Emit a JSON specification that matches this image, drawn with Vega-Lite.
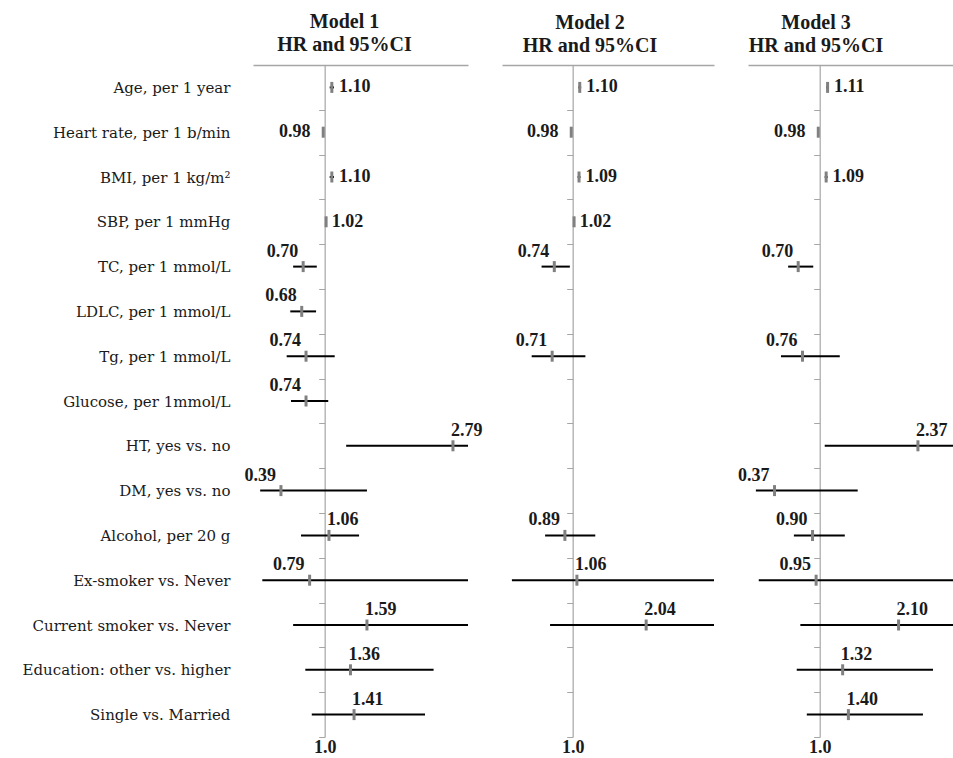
{
  "$schema": "https://vega.github.io/schema/vega-lite/v6.json",
  "padding": {"left": 22, "top": 12, "right": 0, "bottom": 0},
  "config": {
    "view": {"stroke": null},
    "title": {"font": "Liberation Serif", "fontSize": 20, "fontWeight": "bold", "lineHeight": 23, "offset": 3, "anchor": "middle", "color": "#1a1a1a"},
    "axis": {"grid": false}
  },
  "data": {"values": [
    {"model": "Model 1", "var": "Age, per 1 year", "hr": 1.10, "lo": 1.07, "hi": 1.13},
    {"model": "Model 1", "var": "Heart rate, per 1 b/min", "hr": 0.98, "lo": 0.97, "hi": 0.99},
    {"model": "Model 1", "var": "BMI, per 1 kg/m²", "hr": 1.10, "lo": 1.07, "hi": 1.13},
    {"model": "Model 1", "var": "SBP, per 1 mmHg", "hr": 1.02, "lo": 1.01, "hi": 1.03},
    {"model": "Model 1", "var": "TC, per 1 mmol/L", "hr": 0.70, "lo": 0.56, "hi": 0.89},
    {"model": "Model 1", "var": "LDLC, per 1 mmol/L", "hr": 0.68, "lo": 0.52, "hi": 0.88},
    {"model": "Model 1", "var": "Tg, per 1 mmol/L", "hr": 0.74, "lo": 0.47, "hi": 1.14},
    {"model": "Model 1", "var": "Glucose, per 1mmol/L", "hr": 0.74, "lo": 0.53, "hi": 1.05},
    {"model": "Model 1", "var": "HT, yes vs. no", "hr": 2.79, "lo": 1.30, "hi": 3.40},
    {"model": "Model 1", "var": "DM, yes vs. no", "hr": 0.39, "lo": 0.10, "hi": 1.59},
    {"model": "Model 1", "var": "Alcohol, per 20 g", "hr": 1.06, "lo": 0.67, "hi": 1.48},
    {"model": "Model 1", "var": "Ex-smoker vs. Never", "hr": 0.79, "lo": 0.13, "hi": 3.40},
    {"model": "Model 1", "var": "Current smoker vs. Never", "hr": 1.59, "lo": 0.56, "hi": 3.40},
    {"model": "Model 1", "var": "Education: other vs. higher", "hr": 1.36, "lo": 0.73, "hi": 2.52},
    {"model": "Model 1", "var": "Single vs. Married", "hr": 1.41, "lo": 0.82, "hi": 2.40},
    {"model": "Model 2", "var": "Age, per 1 year", "hr": 1.10, "lo": 1.08, "hi": 1.12},
    {"model": "Model 2", "var": "Heart rate, per 1 b/min", "hr": 0.98, "lo": 0.97, "hi": 0.99},
    {"model": "Model 2", "var": "BMI, per 1 kg/m²", "hr": 1.09, "lo": 1.07, "hi": 1.11},
    {"model": "Model 2", "var": "SBP, per 1 mmHg", "hr": 1.02, "lo": 1.01, "hi": 1.03},
    {"model": "Model 2", "var": "TC, per 1 mmol/L", "hr": 0.74, "lo": 0.56, "hi": 0.96},
    {"model": "Model 2", "var": "Tg, per 1 mmol/L", "hr": 0.71, "lo": 0.42, "hi": 1.18},
    {"model": "Model 2", "var": "Alcohol, per 20 g", "hr": 0.89, "lo": 0.61, "hi": 1.32},
    {"model": "Model 2", "var": "Ex-smoker vs. Never", "hr": 1.06, "lo": 0.14, "hi": 3.40},
    {"model": "Model 2", "var": "Current smoker vs. Never", "hr": 2.04, "lo": 0.68, "hi": 3.40},
    {"model": "Model 3", "var": "Age, per 1 year", "hr": 1.11, "lo": 1.09, "hi": 1.13},
    {"model": "Model 3", "var": "Heart rate, per 1 b/min", "hr": 0.98, "lo": 0.97, "hi": 0.99},
    {"model": "Model 3", "var": "BMI, per 1 kg/m²", "hr": 1.09, "lo": 1.07, "hi": 1.11},
    {"model": "Model 3", "var": "TC, per 1 mmol/L", "hr": 0.70, "lo": 0.56, "hi": 0.91},
    {"model": "Model 3", "var": "Tg, per 1 mmol/L", "hr": 0.76, "lo": 0.46, "hi": 1.28},
    {"model": "Model 3", "var": "HT, yes vs. no", "hr": 2.37, "lo": 1.07, "hi": 3.40},
    {"model": "Model 3", "var": "DM, yes vs. no", "hr": 0.37, "lo": 0.11, "hi": 1.53},
    {"model": "Model 3", "var": "Alcohol, per 20 g", "hr": 0.90, "lo": 0.64, "hi": 1.35},
    {"model": "Model 3", "var": "Ex-smoker vs. Never", "hr": 0.95, "lo": 0.15, "hi": 3.40},
    {"model": "Model 3", "var": "Current smoker vs. Never", "hr": 2.10, "lo": 0.73, "hi": 3.40},
    {"model": "Model 3", "var": "Education: other vs. higher", "hr": 1.32, "lo": 0.68, "hi": 2.58},
    {"model": "Model 3", "var": "Single vs. Married", "hr": 1.40, "lo": 0.82, "hi": 2.44}
  ]},
  "bounds": "flush",
  "spacing": 34,
  "hconcat": [
    {
      "width": 215, "height": 672,
      "title": {"text": ["Model 1", "HR and 95%CI"], "dx": -16},
      "transform": [{"filter": "datum.model === 'Model 1'"}],
      "encoding": {
        "y": {"field": "var", "type": "nominal", "sort": null,
          "scale": {"domain": ["Age, per 1 year", "Heart rate, per 1 b/min", "BMI, per 1 kg/m²", "SBP, per 1 mmHg", "TC, per 1 mmol/L", "LDLC, per 1 mmol/L", "Tg, per 1 mmol/L", "Glucose, per 1mmol/L", "HT, yes vs. no", "DM, yes vs. no", "Alcohol, per 20 g", "Ex-smoker vs. Never", "Current smoker vs. Never", "Education: other vs. higher", "Single vs. Married"], "paddingInner": 0, "paddingOuter": 0},
          "axis": {"orient": "left", "offset": -71.67, "domain": true, "domainColor": "#a6a6a6", "domainWidth": 1.2, "ticks": true, "tickBand": "extent", "tickSize": 6, "tickColor": "#a6a6a6", "labels": true, "labelPadding": 88.7, "labelFont": "DejaVu Serif", "labelFontSize": 15, "labelColor": "#1a1a1a", "labelLimit": 400, "title": null, "grid": false}}
      },
      "layer": [
        {"mark": {"type": "rule", "color": "#000000", "strokeWidth": 2, "clip": true},
         "encoding": {
           "x": {"field": "lo", "type": "quantitative", "scale": {"domain": [0, 3], "nice": false, "zero": false},
             "axis": {"orient": "top", "domain": true, "domainColor": "#a6a6a6", "domainWidth": 1.5, "ticks": false, "labels": false, "grid": false, "title": null}},
           "x2": {"field": "hi"}}},
        {"mark": {"type": "tick", "color": "#808080", "thickness": 3, "size": 11, "opacity": 1},
         "encoding": {
           "x": {"field": "hr", "type": "quantitative",
             "axis": {"orient": "bottom", "domain": false, "ticks": false, "grid": false, "values": [1], "labelExpr": "'1.0'", "labelFont": "Liberation Serif", "labelFontSize": 18, "labelFontWeight": "bold", "labelPadding": 1, "labelColor": "#1a1a1a", "title": null}}}},
        {"transform": [{"filter": "datum.hi - datum.lo < 0.1 && datum.hr >= 1"}],
         "mark": {"type": "text", "align": "left", "baseline": "middle", "dx": 5, "font": "Liberation Serif", "fontSize": 18, "fontWeight": "bold", "color": "#1a1a1a"},
         "encoding": {"x": {"field": "hi", "type": "quantitative", "axis": null}, "text": {"field": "hr", "type": "quantitative", "format": ".2f"}}},
        {"transform": [{"filter": "datum.hi - datum.lo < 0.1 && datum.hr < 1"}],
         "mark": {"type": "text", "align": "right", "baseline": "middle", "dx": -12, "font": "Liberation Serif", "fontSize": 18, "fontWeight": "bold", "color": "#1a1a1a"},
         "encoding": {"x": {"field": "lo", "type": "quantitative", "axis": null}, "text": {"field": "hr", "type": "quantitative", "format": ".2f"}}},
        {"transform": [{"filter": "datum.hi - datum.lo >= 0.1 && datum.hr < 1"}],
         "mark": {"type": "text", "align": "right", "baseline": "middle", "dx": -5, "dy": -15, "font": "Liberation Serif", "fontSize": 18, "fontWeight": "bold", "color": "#1a1a1a"},
         "encoding": {"x": {"field": "hr", "type": "quantitative", "axis": null}, "text": {"field": "hr", "type": "quantitative", "format": ".2f"}}},
        {"transform": [{"filter": "datum.hi - datum.lo >= 0.1 && datum.hr >= 1"}],
         "mark": {"type": "text", "align": "left", "baseline": "middle", "dx": -2, "dy": -15, "font": "Liberation Serif", "fontSize": 18, "fontWeight": "bold", "color": "#1a1a1a"},
         "encoding": {"x": {"field": "hr", "type": "quantitative", "axis": null}, "text": {"field": "hr", "type": "quantitative", "format": ".2f"}}}
      ]
    },
    {
      "width": 212, "height": 672,
      "title": {"text": ["Model 2", "HR and 95%CI"], "dx": -18, "dy": -6},
      "transform": [{"filter": "datum.model === 'Model 2'"}],
      "encoding": {
        "y": {"field": "var", "type": "nominal", "sort": null,
          "scale": {"domain": ["Age, per 1 year", "Heart rate, per 1 b/min", "BMI, per 1 kg/m²", "SBP, per 1 mmHg", "TC, per 1 mmol/L", "LDLC, per 1 mmol/L", "Tg, per 1 mmol/L", "Glucose, per 1mmol/L", "HT, yes vs. no", "DM, yes vs. no", "Alcohol, per 20 g", "Ex-smoker vs. Never", "Current smoker vs. Never", "Education: other vs. higher", "Single vs. Married"], "paddingInner": 0, "paddingOuter": 0},
          "axis": {"orient": "left", "offset": -70.67, "domain": true, "domainColor": "#a6a6a6", "domainWidth": 1.2, "ticks": true, "tickBand": "extent", "tickSize": 6, "tickColor": "#a6a6a6", "labels": false, "title": null, "grid": false}}
      },
      "layer": [
        {"mark": {"type": "rule", "color": "#000000", "strokeWidth": 2, "clip": true},
         "encoding": {
           "x": {"field": "lo", "type": "quantitative", "scale": {"domain": [0, 3], "nice": false, "zero": false},
             "axis": {"orient": "top", "domain": true, "domainColor": "#a6a6a6", "domainWidth": 1.5, "ticks": false, "labels": false, "grid": false, "title": null}},
           "x2": {"field": "hi"}}},
        {"mark": {"type": "tick", "color": "#808080", "thickness": 3, "size": 11, "opacity": 1},
         "encoding": {
           "x": {"field": "hr", "type": "quantitative",
             "axis": {"orient": "bottom", "domain": false, "ticks": false, "grid": false, "values": [1], "labelExpr": "'1.0'", "labelFont": "Liberation Serif", "labelFontSize": 18, "labelFontWeight": "bold", "labelPadding": 1, "labelColor": "#1a1a1a", "title": null}}}},
        {"transform": [{"filter": "datum.hi - datum.lo < 0.1 && datum.hr >= 1"}],
         "mark": {"type": "text", "align": "left", "baseline": "middle", "dx": 5, "font": "Liberation Serif", "fontSize": 18, "fontWeight": "bold", "color": "#1a1a1a"},
         "encoding": {"x": {"field": "hi", "type": "quantitative", "axis": null}, "text": {"field": "hr", "type": "quantitative", "format": ".2f"}}},
        {"transform": [{"filter": "datum.hi - datum.lo < 0.1 && datum.hr < 1"}],
         "mark": {"type": "text", "align": "right", "baseline": "middle", "dx": -12, "font": "Liberation Serif", "fontSize": 18, "fontWeight": "bold", "color": "#1a1a1a"},
         "encoding": {"x": {"field": "lo", "type": "quantitative", "axis": null}, "text": {"field": "hr", "type": "quantitative", "format": ".2f"}}},
        {"transform": [{"filter": "datum.hi - datum.lo >= 0.1 && datum.hr < 1"}],
         "mark": {"type": "text", "align": "right", "baseline": "middle", "dx": -5, "dy": -15, "font": "Liberation Serif", "fontSize": 18, "fontWeight": "bold", "color": "#1a1a1a"},
         "encoding": {"x": {"field": "hr", "type": "quantitative", "axis": null}, "text": {"field": "hr", "type": "quantitative", "format": ".2f"}}},
        {"transform": [{"filter": "datum.hi - datum.lo >= 0.1 && datum.hr >= 1"}],
         "mark": {"type": "text", "align": "left", "baseline": "middle", "dx": -2, "dy": -15, "font": "Liberation Serif", "fontSize": 18, "fontWeight": "bold", "color": "#1a1a1a"},
         "encoding": {"x": {"field": "hr", "type": "quantitative", "axis": null}, "text": {"field": "hr", "type": "quantitative", "format": ".2f"}}}
      ]
    },
    {
      "width": 206, "height": 672,
      "title": {"text": ["Model 3", "HR and 95%CI"], "dx": -35, "dy": -6},
      "transform": [{"filter": "datum.model === 'Model 3'"}],
      "encoding": {
        "y": {"field": "var", "type": "nominal", "sort": null,
          "scale": {"domain": ["Age, per 1 year", "Heart rate, per 1 b/min", "BMI, per 1 kg/m²", "SBP, per 1 mmHg", "TC, per 1 mmol/L", "LDLC, per 1 mmol/L", "Tg, per 1 mmol/L", "Glucose, per 1mmol/L", "HT, yes vs. no", "DM, yes vs. no", "Alcohol, per 20 g", "Ex-smoker vs. Never", "Current smoker vs. Never", "Education: other vs. higher", "Single vs. Married"], "paddingInner": 0, "paddingOuter": 0},
          "axis": {"orient": "left", "offset": -71.7, "domain": true, "domainColor": "#a6a6a6", "domainWidth": 1.2, "ticks": true, "tickBand": "extent", "tickSize": 6, "tickColor": "#a6a6a6", "labels": false, "title": null, "grid": false}}
      },
      "layer": [
        {"mark": {"type": "rule", "color": "#000000", "strokeWidth": 2, "clip": true},
         "encoding": {
           "x": {"field": "lo", "type": "quantitative", "scale": {"domain": [0, 2.873], "nice": false, "zero": false},
             "axis": {"orient": "top", "domain": true, "domainColor": "#a6a6a6", "domainWidth": 1.5, "ticks": false, "labels": false, "grid": false, "title": null}},
           "x2": {"field": "hi"}}},
        {"mark": {"type": "tick", "color": "#808080", "thickness": 3, "size": 11, "opacity": 1},
         "encoding": {
           "x": {"field": "hr", "type": "quantitative",
             "axis": {"orient": "bottom", "domain": false, "ticks": false, "grid": false, "values": [1], "labelExpr": "'1.0'", "labelFont": "Liberation Serif", "labelFontSize": 18, "labelFontWeight": "bold", "labelPadding": 1, "labelColor": "#1a1a1a", "title": null}}}},
        {"transform": [{"filter": "datum.hi - datum.lo < 0.1 && datum.hr >= 1"}],
         "mark": {"type": "text", "align": "left", "baseline": "middle", "dx": 5, "font": "Liberation Serif", "fontSize": 18, "fontWeight": "bold", "color": "#1a1a1a"},
         "encoding": {"x": {"field": "hi", "type": "quantitative", "axis": null}, "text": {"field": "hr", "type": "quantitative", "format": ".2f"}}},
        {"transform": [{"filter": "datum.hi - datum.lo < 0.1 && datum.hr < 1"}],
         "mark": {"type": "text", "align": "right", "baseline": "middle", "dx": -12, "font": "Liberation Serif", "fontSize": 18, "fontWeight": "bold", "color": "#1a1a1a"},
         "encoding": {"x": {"field": "lo", "type": "quantitative", "axis": null}, "text": {"field": "hr", "type": "quantitative", "format": ".2f"}}},
        {"transform": [{"filter": "datum.hi - datum.lo >= 0.1 && datum.hr < 1"}],
         "mark": {"type": "text", "align": "right", "baseline": "middle", "dx": -5, "dy": -15, "font": "Liberation Serif", "fontSize": 18, "fontWeight": "bold", "color": "#1a1a1a"},
         "encoding": {"x": {"field": "hr", "type": "quantitative", "axis": null}, "text": {"field": "hr", "type": "quantitative", "format": ".2f"}}},
        {"transform": [{"filter": "datum.hi - datum.lo >= 0.1 && datum.hr >= 1"}],
         "mark": {"type": "text", "align": "left", "baseline": "middle", "dx": -2, "dy": -15, "font": "Liberation Serif", "fontSize": 18, "fontWeight": "bold", "color": "#1a1a1a"},
         "encoding": {"x": {"field": "hr", "type": "quantitative", "axis": null}, "text": {"field": "hr", "type": "quantitative", "format": ".2f"}}}
      ]
    }
  ]
}
